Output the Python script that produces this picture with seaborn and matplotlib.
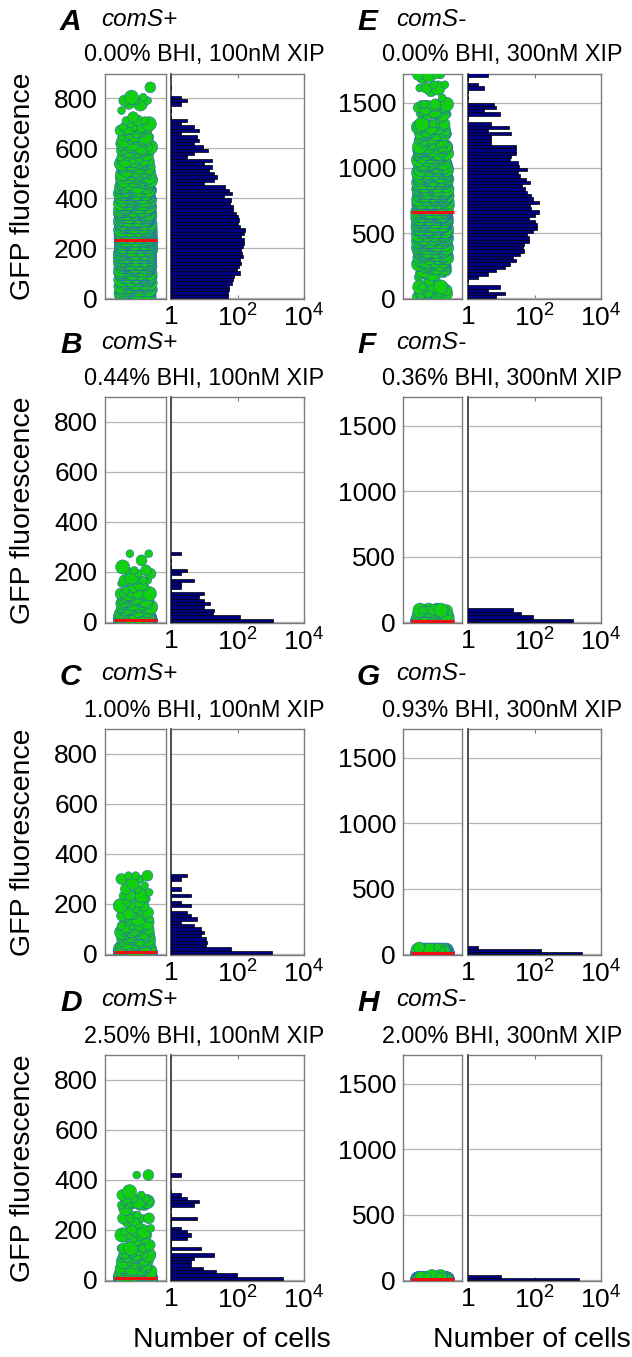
import numpy as np
import pandas as pd
import matplotlib
matplotlib.use("Agg")
import matplotlib.pyplot as plt
import seaborn as sns

# ---------------- data (histogram counts per bin, lowest bin first) ----------------
bin_width_left = 13.3
counts_A = [52, 52, 57, 56, 69, 74, 79, 118, 96, 110, 126, 120, 149, 138, 126, 149, 155, 152,
            126, 160, 167, 115, 100, 110, 105, 89, 74, 75, 58, 63, 40, 69, 56, 43, 10, 20, 25,
            20, 14, 17, 10, 17, 3, 5, 13, 9, 5, 7, 6, 2, 7, 5, 2, 3, 1, 0, 1, 0, 2, 3, 2, 0, 0, 1]
counts_B = [1200, 118, 18, 20, 10, 15, 10, 7, 10, 1, 2, 2, 5, 1, 2, 3, 1, 0, 1, 0, 2]
counts_C = [1070, 66, 11, 12, 11, 8, 10, 8, 5, 2, 6, 4, 3, 1, 4, 2, 1, 4, 1, 2, 1, 1, 2, 3]
counts_D = [2400, 98, 23, 9, 4, 4, 5, 19, 1, 8, 1, 1, 3, 4, 3, 2, 1, 1, 6, 1, 0, 1, 5, 7, 3,
            2, 1, 0, 0, 0, 0, 2]
bin_width_E = 25.0
counts_E = [7, 13, 4, 9, 0, 1, 2, 4, 7, 13, 18, 27, 23, 36, 47, 46, 47, 69, 67, 61, 91, 115,
            117, 102, 69, 107, 135, 81, 74, 135, 89, 77, 59, 51, 42, 74, 56, 36, 32, 61, 34, 32,
            18, 20, 27, 27, 27, 5, 5, 5, 19, 4, 17, 5, 0, 1, 9, 3, 7, 6, 0, 1, 0, 1, 3, 2, 0, 1, 4]
bin_width_F = 26.5
counts_F = [1420, 93, 40, 22]
bin_width_G = 21.0
counts_G = [2620, 155, 2]
bin_width_H = 19.0
counts_H = [2150, 10]

letters = ["A", "B", "C", "D", "E", "F", "G", "H"]
strains = ["comS+", "comS+", "comS+", "comS+", "comS-", "comS-", "comS-", "comS-"]
conditions = ["0.00% BHI, 100nM XIP", "0.44% BHI, 100nM XIP", "1.00% BHI, 100nM XIP",
              "2.50% BHI, 100nM XIP", "0.00% BHI, 300nM XIP", "0.36% BHI, 300nM XIP",
              "0.93% BHI, 300nM XIP", "2.00% BHI, 300nM XIP"]
yticks_left = [0, 200, 400, 600, 800]
yticks_right = [0, 500, 1000, 1500]
xticks_hist = [1, 100, 10000]
xtick_labels = ["1", r"$\mathregular{10^2}$", r"$\mathregular{10^4}$"]
ylabel_text = "GFP fluorescence"
xlabel_text = "Number of cells"

panels = [
    (counts_A, bin_width_left), (counts_B, bin_width_left), (counts_C, bin_width_left),
    (counts_D, bin_width_left), (counts_E, bin_width_E), (counts_F, bin_width_F),
    (counts_G, bin_width_G), (counts_H, bin_width_H),
]

# ---------------- style ----------------
sns.set_style("white")
plt.rcParams["font.family"] = ["Liberation Sans", "DejaVu Sans"]
plt.rcParams["text.color"] = "black"
plt.rcParams["axes.labelcolor"] = "black"
plt.rcParams["xtick.color"] = "black"
plt.rcParams["ytick.color"] = "black"

W, H = 632, 1357
fig = plt.figure(figsize=(W / 100, H / 100), dpi=100)
fig.patch.set_facecolor("white")


def px_axes(x0, y0, x1, y1):
    return fig.add_axes([x0 / W, 1 - y1 / H, (x1 - x0) / W, (y1 - y0) / H])


row_tb = [(74, 299), (397, 623), (729, 955), (1055, 1281)]
col_x = [((105, 166), (171, 304), 204, 60, 101), ((403, 462), (468, 601), 502, 357, 396)]

GREEN = "#12cf12"
BLUE_EDGE = "#3358d8"
NAVY = "#000080"
GRID = "#b4b4b4"
SPINE = "#7c7c7c"
TICK_FS = 19
size_levels = {"s": 32, "m": 62, "l": 105}
size_cycle = ["m", "s", "l", "m", "s", "s"]

for i, (counts, bw) in enumerate(panels):
    col = i // 4
    row = i % 4
    top, bot = row_tb[row]
    (sx0, sx1), (hx0, hx1), tcx, letx, strx = col_x[col]
    if col == 0:
        ylim = (-4, 898)
        yt = yticks_left
    else:
        ylim = (-5, 1720)
        yt = yticks_right

    counts = np.asarray(counts)
    edges = np.arange(len(counts) + 1) * bw
    centers = (edges[:-1] + edges[1:]) / 2
    vals = np.repeat(centers, counts)
    n = len(vals)
    idx = np.arange(n)
    df = pd.DataFrame({
        "gfp": vals,
        "pos": ((idx * 0.6180339887) % 1.0 - 0.5) * 0.50,
        "grp": [size_cycle[k % len(size_cycle)] for k in idx],
    })

    # ---- scatter (cells) ----
    axs = px_axes(sx0, top, sx1, bot)
    sns.scatterplot(data=df, x="pos", y="gfp", size="grp", sizes=size_levels,
                    color=GREEN, edgecolor=BLUE_EDGE, linewidth=0.35, alpha=1,
                    legend=False, ax=axs, zorder=3)
    med = float(np.median(vals))
    axs.plot([-0.36, 0.36], [med, med], color="#ee1111", lw=2.2, zorder=4,
             solid_capstyle="butt")
    axs.set_xlim(-0.5, 0.5)
    axs.set_ylim(*ylim)
    axs.set_xticks([])
    axs.set_yticks(yt)
    axs.set_yticklabels([str(v) for v in yt], fontsize=TICK_FS)
    axs.tick_params(axis="y", direction="in", length=3, pad=5, colors=SPINE,
                    labelcolor="black")
    axs.grid(axis="y", color=GRID, lw=0.9)
    axs.set_axisbelow(True)
    axs.set_xlabel("")
    axs.set_ylabel("")
    for sp in axs.spines.values():
        sp.set_color(SPINE)
        sp.set_linewidth(1.0)
    if col == 0:
        axs.set_ylabel(ylabel_text, fontsize=20.5, color="black")
        axs.yaxis.set_label_coords((23 - sx0) / (sx1 - sx0), 0.5)
        axs.yaxis.label.set_va("center")

    # ---- histogram (log counts) ----
    axh = px_axes(hx0, top, hx1, bot)
    sns.histplot(y=vals, bins=edges, ax=axh, color=NAVY, edgecolor="black",
                 linewidth=0.5, alpha=1, zorder=3)
    axh.set_xscale("log")
    axh.set_xlim(1, 1e4)
    axh.set_ylim(*ylim)
    axh.set_xticks(xticks_hist)
    axh.set_xticklabels(xtick_labels, fontsize=TICK_FS)
    axh.minorticks_off()
    axh.set_yticks(yt)
    axh.tick_params(axis="y", labelleft=False, length=0)
    axh.tick_params(axis="x", direction="in", length=3, top=True, bottom=True, pad=4,
                    colors=SPINE, labelcolor="black")
    axh.grid(axis="y", color=GRID, lw=0.9)
    axh.grid(axis="x", visible=False)
    axh.set_axisbelow(True)
    axh.set_ylabel("")
    axh.set_xlabel("")
    for sp in axh.spines.values():
        sp.set_color(SPINE)
        sp.set_linewidth(1.0)
    axh.spines["left"].set_color("#404040")
    axh.spines["left"].set_linewidth(1.3)
    if row == 3:
        axh.set_xlabel(xlabel_text, fontsize=20.5, color="black")
        axh.xaxis.set_label_coords((532 - hx0 if col else 232 - hx0) / (hx1 - hx0),
                                   -(1340 - bot) / (bot - top))
        axh.xaxis.label.set_va("center")

    # ---- titles ----
    fig.text(letx / W, 1 - (top - 52) / H, letters[i], fontsize=21.5, fontweight="bold",
             fontstyle="italic", ha="left", va="center", color="black")
    fig.text(strx / W, 1 - (top - 55) / H, strains[i], fontsize=17.5, fontstyle="italic",
             ha="left", va="center", color="black")
    fig.text(tcx / W, 1 - (top - 19) / H, conditions[i], fontsize=16.8, ha="center",
             va="center", color="black")

fig.savefig("out.png", dpi=100, facecolor="white")
